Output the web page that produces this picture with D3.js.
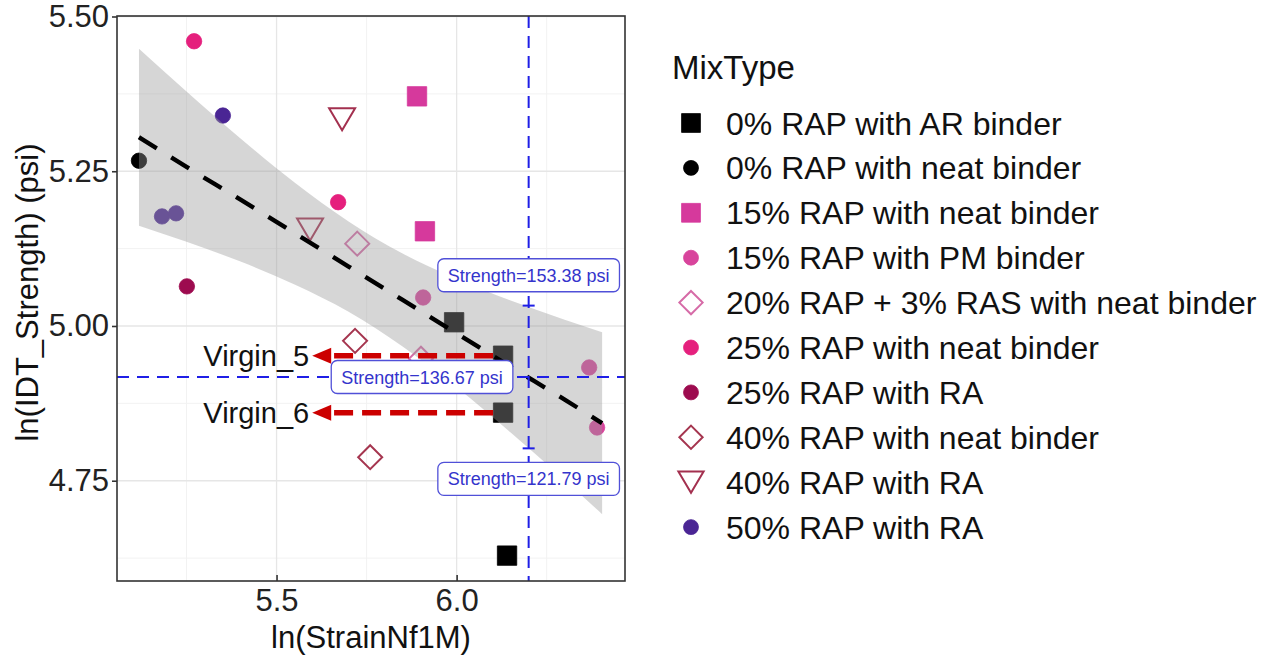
<!DOCTYPE html>
<html><head><meta charset="utf-8">
<script src="https://cdn.jsdelivr.net/npm/d3@7"></script>
<style>
html,body{margin:0;padding:0;background:#fff;}
svg{display:block;font-family:"Liberation Sans",Arial,sans-serif;}
</style></head>
<body><svg id="chart" width="1273" height="657"></svg>
<script>
// ---------- data ----------
const categories = [
  "0% RAP with AR binder","0% RAP with neat binder","15% RAP with neat binder",
  "15% RAP with PM binder","20% RAP + 3% RAS with neat binder","25% RAP with neat binder",
  "25% RAP with RA","40% RAP with neat binder","40% RAP with RA","50% RAP with RA"];
const shapes = ["square","circle","square","circle","diamond","circle","circle","diamond","triangle","circle"];
const colors = ["#000000","#000000","#d6399c","#d8449c","#d66ba7","#e5207d","#9d0b4f","#a5354f","#a3304f","#4a2594"];

const x_0AR   = [5.993, 6.129, 6.129, 6.140];
const y_0AR   = [5.006, 4.952, 4.860, 4.629];
const x_0neat = [5.118];
const y_0neat = [5.267];
const x_15neat= [5.890, 5.912];
const y_15neat= [5.371, 5.153];
const x_15PM  = [5.907, 6.368, 6.390];
const y_15PM  = [5.046, 4.933, 4.836];
const x_20RAS = [5.724, 5.901];
const y_20RAS = [5.133, 4.947];
const x_25neat= [5.271, 5.671];
const y_25neat= [5.460, 5.200];
const x_25RA  = [5.251];
const y_25RA  = [5.064];
const x_40neat= [5.718, 5.760];
const y_40neat= [4.976, 4.788];
const x_40RA  = [5.682, 5.593];
const y_40RA  = [5.334, 5.156];
const x_50RA  = [5.351, 5.182, 5.221];
const y_50RA  = [5.340, 5.177, 5.182];
const seriesX = [x_0AR,x_0neat,x_15neat,x_15PM,x_20RAS,x_25neat,x_25RA,x_40neat,x_40RA,x_50RA];
const seriesY = [y_0AR,y_0neat,y_15neat,y_15PM,y_20RAS,y_25neat,y_25RA,y_40neat,y_40RA,y_50RA];

// fitted line and confidence band
const fitX  = [5.118, 5.25, 5.4, 5.55, 5.7, 5.85, 6.0, 6.15, 6.3, 6.404];
const fitY  = [5.305, 5.257, 5.204, 5.150, 5.096, 5.042, 4.988, 4.934, 4.881, 4.843];
const bandLo= [5.162, 5.136, 5.104, 5.067, 5.023, 4.967, 4.901, 4.828, 4.751, 4.696];
const bandHi= [5.448, 5.379, 5.303, 5.232, 5.169, 5.117, 5.076, 5.041, 5.010, 4.990];

// reference lines and labels
const vlineX = 6.2;
const hlineY = Math.log(136.67);
const ciMarks = [Math.log(153.38), Math.log(121.79)];
const labelText = ["Strength=153.38 psi","Strength=136.67 psi","Strength=121.79 psi"];
const labelX = [6.2, 5.904, 6.2];
const labelY = [5.082, Math.log(136.67), 4.753];

// virgin arrows
const virginNames = ["Virgin_5","Virgin_6"];
const virginFromX = [6.129, 6.129];
const virginToX   = [5.599, 5.599];
const virginY     = [4.952, 4.860];

// axes
const xTicks = [5.5, 6.0];
const xTickLabels = ["5.5","6.0"];
const yTicks = [4.75, 5.00, 5.25, 5.50];
const yTickLabels = ["4.75","5.00","5.25","5.50"];
const xMinor = [5.25, 5.75, 6.25];
const yMinor = [4.625, 4.875, 5.125, 5.375];

// ---------- layout ----------
const P = {l:117, t:16, r:625, b:581};
const svg = d3.select("#chart");
const x = d3.scaleLinear().domain([5.057, 6.4675]).range([P.l, P.r]);
const y = d3.scaleLinear().domain([4.588, 5.5008]).range([P.b, P.t]);

function shapePath(s, scale){
  scale = scale || 1;
  if (s==="square"){ const h=9.7*scale; return `M${-h},${-h}H${h}V${h}H${-h}Z`; }
  if (s==="circle"){ const r=7.7*scale; return `M${r},0A${r},${r} 0 1,1 ${-r},0A${r},${r} 0 1,1 ${r},0Z`; }
  if (s==="diamond"){ const h=12*scale; return `M0,${-h}L${h},0L0,${h}L${-h},0Z`; }
  if (s==="triangle"){ const w=13*scale, h=11*scale; return `M${-w},${-h}L${w},${-h}L0,${h}Z`; }
}
function styleShape(sel, i){
  const open = shapes[i]==="diamond" || shapes[i]==="triangle";
  sel.attr("fill", open ? "none" : colors[i])
     .attr("stroke", colors[i])
     .attr("stroke-width", open ? 2 : 0.8);
}

// grid
const g = svg.append("g");
g.append("rect").attr("x",P.l).attr("y",P.t).attr("width",P.r-P.l).attr("height",P.b-P.t).attr("fill","#fff");
g.selectAll(".gxm").data(xMinor).enter().append("line")
  .attr("x1",d=>x(d)).attr("x2",d=>x(d)).attr("y1",P.t).attr("y2",P.b)
  .attr("stroke","#f2f2f2").attr("stroke-width",1);
g.selectAll(".gym").data(yMinor).enter().append("line")
  .attr("y1",d=>y(d)).attr("y2",d=>y(d)).attr("x1",P.l).attr("x2",P.r)
  .attr("stroke","#f2f2f2").attr("stroke-width",1);
g.selectAll(".gx").data(xTicks).enter().append("line")
  .attr("x1",d=>x(d)).attr("x2",d=>x(d)).attr("y1",P.t).attr("y2",P.b)
  .attr("stroke","#e6e6e6").attr("stroke-width",1.3);
g.selectAll(".gy").data(yTicks).enter().append("line")
  .attr("y1",d=>y(d)).attr("y2",d=>y(d)).attr("x1",P.l).attr("x2",P.r)
  .attr("stroke","#e6e6e6").attr("stroke-width",1.3);

// points
const pts = [];
seriesX.forEach((xs,i)=>xs.forEach((v,j)=>pts.push({i, x:v, y:seriesY[i][j]})));
svg.append("g").selectAll("path").data(pts).enter().append("path")
  .attr("transform",d=>`translate(${x(d.x)},${y(d.y)})`)
  .attr("d",d=>shapePath(shapes[d.i]))
  .each(function(d){ styleShape(d3.select(this), d.i); });

// ribbon
const band = fitX.map((v,k)=>({x:v, lo:bandLo[k], hi:bandHi[k], f:fitY[k]}));
svg.append("path").datum(band)
  .attr("d", d3.area().x(d=>x(d.x)).y0(d=>y(d.lo)).y1(d=>y(d.hi)).curve(d3.curveMonotoneX))
  .attr("fill","#999999").attr("fill-opacity",0.4);
// fitted line
svg.append("path").datum(band)
  .attr("d", d3.line().x(d=>x(d.x)).y(d=>y(d.f)).curve(d3.curveMonotoneX))
  .attr("fill","none").attr("stroke","#000").attr("stroke-width",4.4)
  .attr("stroke-dasharray","21,17");

// blue reference lines
const blue = "#1f1fe6";
svg.append("line").attr("x1",x(vlineX)).attr("x2",x(vlineX)).attr("y1",P.t).attr("y2",P.b)
  .attr("stroke",blue).attr("stroke-width",2).attr("stroke-dasharray","12,8");
svg.append("line").attr("x1",P.l).attr("x2",P.r).attr("y1",y(hlineY)).attr("y2",y(hlineY))
  .attr("stroke",blue).attr("stroke-width",2).attr("stroke-dasharray","12,8");
svg.selectAll(".ci").data(ciMarks).enter().append("line")
  .attr("x1",x(vlineX)-6).attr("x2",x(vlineX)+6).attr("y1",d=>y(d)).attr("y2",d=>y(d))
  .attr("stroke",blue).attr("stroke-width",2);

// virgin arrows
const red = "#cc0000";
const arr = svg.append("g");
virginNames.forEach((nm,k)=>{
  const yy = y(virginY[k]), x0 = x(virginFromX[k]) - 10, x1 = x(virginToX[k]);
  arr.append("line").attr("x1",x0).attr("x2",x1+16).attr("y1",yy).attr("y2",yy)
    .attr("stroke",red).attr("stroke-width",5.5).attr("stroke-dasharray","19,9");
  arr.append("path").attr("d",`M${x1},${yy}L${x1+19},${yy-8}L${x1+19},${yy+8}Z`).attr("fill",red);
  arr.append("text").attr("x",x1-3).attr("y",yy+10).attr("text-anchor","end")
    .attr("font-size",29).attr("fill","#111").text(nm);
});

// label boxes
const lab = svg.append("g");
labelText.forEach((t,k)=>{
  const gg = lab.append("g").attr("transform",`translate(${x(labelX[k])},${y(labelY[k])})`);
  const rect = gg.append("rect");
  const tx = gg.append("text").attr("text-anchor","middle").attr("y",6.5)
    .attr("font-size",18).attr("fill","#3434cc").text(t);
  const w = tx.node().getComputedTextLength() + 20;
  rect.attr("x",-w/2).attr("y",-16.5).attr("width",w).attr("height",33).attr("rx",6)
    .attr("fill","#fff").attr("stroke","#5050d8").attr("stroke-width",1.3);
});

// panel border
svg.append("rect").attr("x",P.l).attr("y",P.t).attr("width",P.r-P.l).attr("height",P.b-P.t)
  .attr("fill","none").attr("stroke","#333").attr("stroke-width",1.6);

// axes
const xa = svg.append("g").attr("transform",`translate(0,${P.b})`)
  .call(d3.axisBottom(x).tickValues(xTicks).tickFormat((d,i)=>xTickLabels[i]).tickSize(5).tickPadding(3));
const ya = svg.append("g").attr("transform",`translate(${P.l},0)`)
  .call(d3.axisLeft(y).tickValues(yTicks).tickFormat((d,i)=>yTickLabels[i]).tickSize(5).tickPadding(3));
[xa,ya].forEach(a=>{
  a.select(".domain").remove();
  a.selectAll(".tick line").attr("stroke","#333").attr("stroke-width",1.6);
  a.selectAll(".tick text").attr("font-size",31).attr("fill","#222")
    .attr("font-family","'Liberation Sans',Arial,sans-serif");
});
xa.selectAll(".tick line").attr("y1",-6).attr("y2",0);
ya.selectAll(".tick line").attr("x1",0).attr("x2",-5);

svg.append("text").attr("x",(P.l+P.r)/2).attr("y",648).attr("text-anchor","middle")
  .attr("font-size",31).attr("fill","#111").text("ln(StrainNf1M)");
svg.append("text").attr("transform",`translate(38,${(P.t+P.b)/2 - 6}) rotate(-90)`)
  .attr("text-anchor","middle").attr("font-size",31).attr("fill","#111").text("ln(IDT_Strength) (psi)");

// legend
const lg = svg.append("g");
lg.append("text").attr("x",672).attr("y",79).attr("font-size",33).attr("fill","#111").text("MixType");
categories.forEach((c,i)=>{
  const yy = 123 + i*44.9;
  const p = lg.append("path").attr("transform",`translate(691,${yy})`).attr("d",shapePath(shapes[i],0.97));
  styleShape(p,i);
  lg.append("text").attr("x",726).attr("y",yy+11.5).attr("font-size",32).attr("fill","#111").text(c);
});
</script></body></html>
